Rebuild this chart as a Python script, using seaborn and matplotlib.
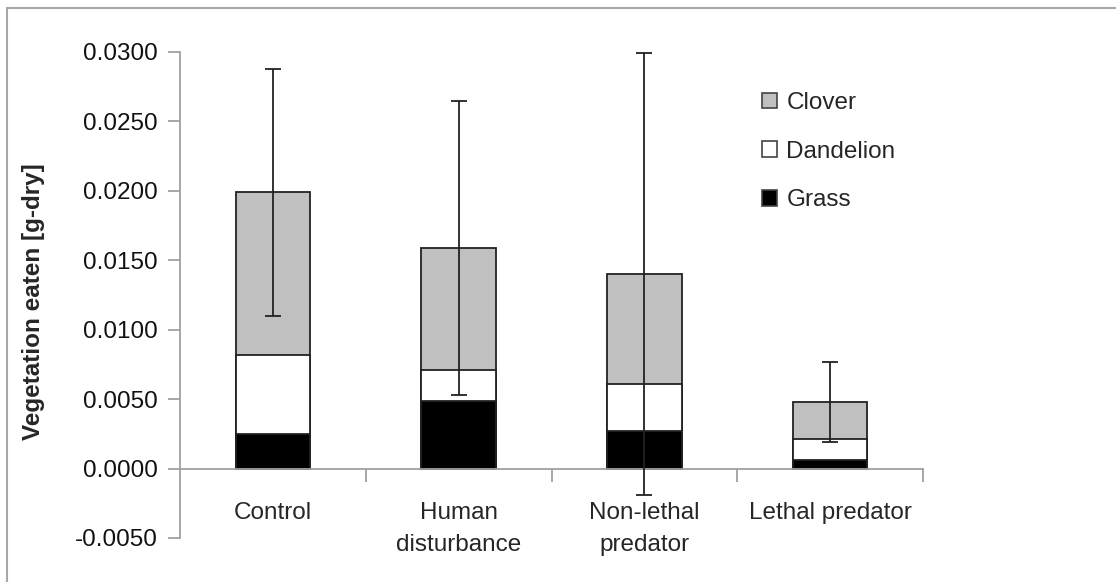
import matplotlib
matplotlib.use("Agg")
import matplotlib.pyplot as plt
from matplotlib.patches import Patch
from matplotlib.lines import Line2D
import numpy as np
import seaborn as sns

categories = ["Control", "Human\ndisturbance", "Non-lethal\npredator", "Lethal predator"]
grass = [0.0025, 0.0049, 0.0027, 0.0006]
dandelion = [0.0057, 0.0022, 0.0034, 0.0015]
clover = [0.0117, 0.0088, 0.0079, 0.0027]
error = [0.0089, 0.0106, 0.0159, 0.0029]
yticks = [-0.005, 0.0, 0.005, 0.010, 0.015, 0.020, 0.025, 0.030]

sns.set_theme(style="white")
plt.rcParams["font.family"] = ["Liberation Sans", "DejaVu Sans"]

W, H = 1116, 582
fig = plt.figure(figsize=(W / 100, H / 100), dpi=100)
ax = fig.add_axes([180 / W, 1 - 538 / H, (923 - 180) / W, (538 - 52) / H])

g = np.array(grass)
d = np.array(dandelion)
c = np.array(clover)
tot = g + d + c
edge = "#222222"
lw = 1.3

sns.barplot(x=categories, y=tot, color="#c0c0c0", width=0.4, edgecolor=edge,
            linewidth=lw, errorbar=None, ax=ax, saturation=1)
sns.barplot(x=categories, y=g + d, color="#ffffff", width=0.4, edgecolor=edge,
            linewidth=lw, errorbar=None, ax=ax, saturation=1)
sns.barplot(x=categories, y=g, color="#000000", width=0.4, edgecolor=edge,
            linewidth=lw, errorbar=None, ax=ax, saturation=1)

xpos = np.arange(len(categories))
ax.errorbar(xpos, tot, yerr=error, fmt="none", ecolor="#222222", elinewidth=1.3,
            capsize=6, capthick=1.3, zorder=5)

ax.set_xlim(-0.5, len(categories) - 0.5)
ax.set_ylim(-0.005, 0.030)
ax.set_yticks(yticks)
ax.set_yticklabels([f"{v:.4f}" for v in yticks])

spine_col = "#a0a0a0"
for s in ["top", "right"]:
    ax.spines[s].set_visible(False)
ax.spines["left"].set_color(spine_col)
ax.spines["left"].set_linewidth(1.3)
ax.spines["bottom"].set_color(spine_col)
ax.spines["bottom"].set_linewidth(1.3)
ax.spines["bottom"].set_position(("data", 0))

ax.set_xticks(xpos + 0.5)
ax.set_xticklabels([])
ax.set_xticks(xpos, minor=True)
ax.set_xticklabels(categories, minor=True, fontsize=17.5, linespacing=1.6)
ax.tick_params(axis="x", which="major", direction="out", length=9, width=1.3,
               color=spine_col, bottom=True)
ax.tick_params(axis="x", which="minor", length=0, pad=24, bottom=True)
ax.tick_params(axis="y", direction="out", length=9, width=1.3, color=spine_col,
               left=True, pad=7, labelsize=17.5)
for t in ax.get_yticklabels():
    t.set_color("#111111")
ax.set_xlabel("")
ax.set_ylabel("Vegetation eaten [g-dry]", fontsize=17.5, fontweight="bold")
ax.yaxis.set_label_coords((45 - 180) / (923 - 180), (538 - 302) / (538 - 52))

handles = [Patch(facecolor="#c0c0c0", edgecolor="#444444", linewidth=1.2),
           Patch(facecolor="#ffffff", edgecolor="#444444", linewidth=1.2),
           Patch(facecolor="#000000", edgecolor="#444444", linewidth=1.2)]
leg = ax.legend(handles, ["Clover", "Dandelion", "Grass"], loc="upper left",
                bbox_to_anchor=((762 - 180) / (923 - 180), (538 - 92) / (538 - 52)),
                frameon=False, fontsize=17.5, handlelength=0.6, handleheight=0.6,
                handletextpad=0.4, labelspacing=1.1, borderaxespad=0, borderpad=0)

fig.add_artist(Line2D([7 / W, 7 / W], [0, 1 - 8 / H], color="#a8a8a8", lw=1.5,
                      transform=fig.transFigure))
fig.add_artist(Line2D([7 / W, 1], [1 - 8 / H, 1 - 8 / H], color="#a8a8a8", lw=1.5,
                      transform=fig.transFigure))

fig.savefig("out.png", dpi=100, facecolor="white")
